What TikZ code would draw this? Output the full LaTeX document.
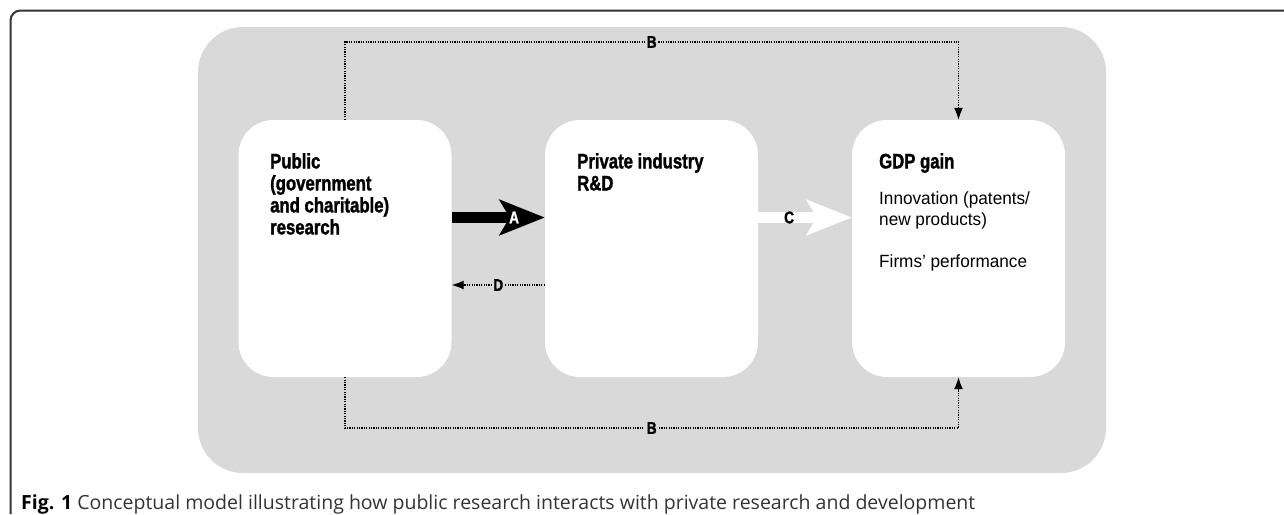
\documentclass[tikz,border=0pt]{standalone}
\usepackage{fontspec}
\usetikzlibrary{arrows.meta}
\newfontfamily\condfont[FakeStretch=0.8,BoldFeatures={FakeBold=1.5}]{Liberation Sans}
\newfontfamily\corpsfont[FakeStretch=0.97]{Liberation Sans}
\newfontfamily\legfont{Open Sans}
\definecolor{fondgris}{RGB}{217,217,217}

\begin{document}
\begin{tikzpicture}[x=1pt,y=-1pt,
  boite/.style={fill=white,rounded corners=35pt,minimum width=213pt,minimum height=257pt,inner sep=0pt},
  titre/.style={anchor=north west,align=left,inner sep=0pt,font=\condfont\bfseries\fontsize{20.9}{22}\selectfont},
  texte/.style={anchor=north west,align=left,inner sep=0pt,font=\corpsfont\fontsize{17.7}{21}\selectfont},
  lettre/.style={font=\condfont\bfseries\fontsize{17}{17}\selectfont,inner sep=1.5pt},
  pointille/.style={line width=1.2pt,dash pattern=on 1.2pt off 1.2pt,-{Latex[length=12pt,width=9pt]}},
  grosse/.style={line width=11pt,-{Stealth[length=45pt,width=35pt,inset=10pt]}}]

\useasboundingbox (0,0) rectangle (1284,514);

% Cadre et fond gris
\draw[line width=2pt,black!80,rounded corners=10pt] (10.5,514) -- (10.5,10.5) -- (1284,10.5);
\fill[fondgris,rounded corners=45pt] (198,27) rectangle (1106,473);

% Les trois boites
\node[boite] (pub) at (345,248.5) {};
\node[boite] (priv) at (651.5,248.5) {};
\node[boite] (gdp) at (958.5,248.5) {};

\node[titre] (pubtxt) at (270,153) {Public\\(government\\and charitable)\\research};
\node[titre] (privtxt) at (577,153) {Private industry\\R\&D};
\node[titre] (gdptxt) at (879,153) {GDP gain};
\node[texte] (inno) at (879,191) {Innovation (patents/\\new products)};
\node[texte] (firms) at (879,254) {Firms’ performance};

% Fleches A et C
\draw[grosse,black] ([yshift=31pt]pub.east) -- ([yshift=31pt]priv.west)
  node[lettre,text=white,pos=0.67] (la) {A};
\draw[grosse,white] ([yshift=31pt]priv.east) -- ([yshift=31pt]gdp.west)
  node[lettre,text=black,pos=0.33] (lc) {C};

% Fleches en pointille (B et D)
\coordinate (hautg) at (345,42);
\coordinate (hautd) at (958.5,42);
\coordinate (basg) at (345,428);
\coordinate (basd) at (958.5,428);
\draw[pointille] (pub.north) -- (hautg) -- node[lettre,fill=fondgris] (lb1) {B} (hautd) -- (gdp.north);
\draw[pointille] (pub.south) -- (basg) -- node[lettre,fill=fondgris] (lb2) {B} (basd) -- (gdp.south);
\draw[pointille] ([yshift=-36.5pt]priv.west) -- node[lettre,fill=fondgris] (ld) {D} ([yshift=-36.5pt]pub.east);

% Legende
\node[anchor=base west,inner sep=0pt,font=\legfont\fontsize{19.5}{22}\selectfont,text=black!80] (leg) at (21,509)
  {\textbf{\color{black}Fig. 1} Conceptual model illustrating how public research interacts with private research and development};

\end{tikzpicture}
\end{document}
